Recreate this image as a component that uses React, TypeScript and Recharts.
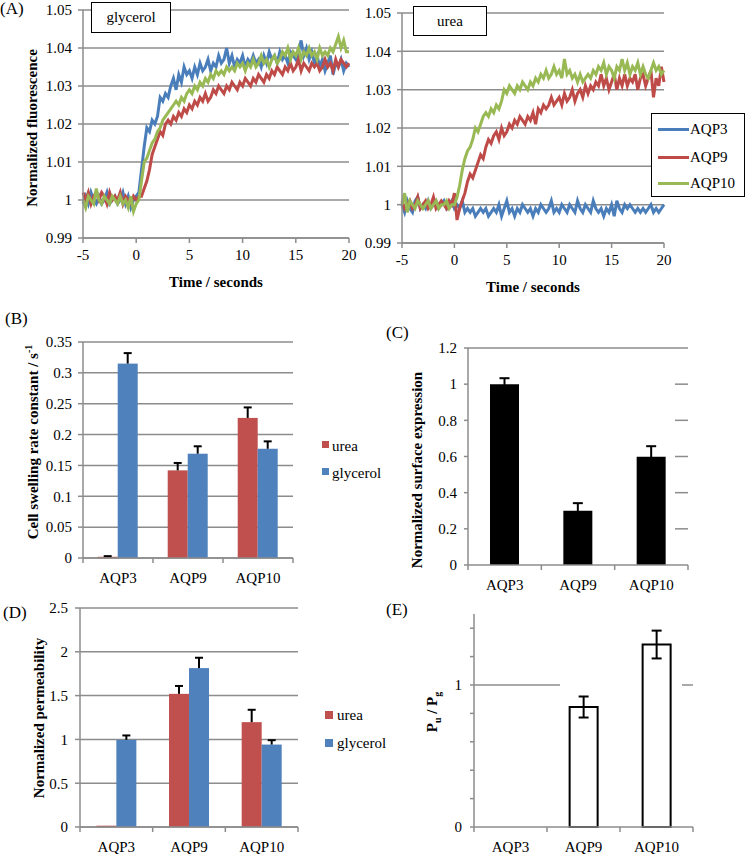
import React from 'react';
import { LineChart, Line, BarChart, Bar, XAxis, YAxis, CartesianGrid, ErrorBar } from 'recharts';

const FONT = 'Liberation Serif, Times New Roman, serif';
const GRID = '#8c8c8c';
const LINE_BLUE = '#4a7ebb';
const LINE_RED = '#be4b48';
const LINE_GREEN = '#98b954';
const BAR_RED = '#c0504d';
const BAR_BLUE = '#4f81bd';

// ---------- Panel A: time courses (t = -5 .. 20 s, every 0.25 s) ----------
const TIME_START = -5;
const TIME_STEP = 0.25;
const TIME_TICKS = [-5, 0, 5, 10, 15, 20];
const FLUO_TICKS = [0.99, 1, 1.01, 1.02, 1.03, 1.04, 1.05];

const glyAQP3 = [
  0.999, 1.001, 0.999, 1.002, 1.000, 0.999, 1.001, 0.999, 1.000, 1.002, 0.999, 1.000,
  1.001, 0.999, 1.000, 1.002, 0.999, 1.001, 0.998, 1.000,
  1.001, 1.002, 1.008, 1.014, 1.019, 1.018, 1.021, 1.020, 1.022, 1.027, 1.026, 1.028,
  1.027, 1.030, 1.032, 1.029, 1.033, 1.031, 1.035, 1.033, 1.034, 1.032, 1.035, 1.033,
  1.036, 1.034, 1.035, 1.037, 1.034, 1.036, 1.035, 1.038, 1.036, 1.037, 1.040, 1.036,
  1.038, 1.035, 1.037, 1.036, 1.038, 1.035, 1.037, 1.036, 1.038, 1.036, 1.037, 1.035,
  1.038, 1.036, 1.039, 1.037, 1.038, 1.036, 1.039, 1.037, 1.038, 1.036, 1.039, 1.038,
  1.037, 1.039, 1.042, 1.038, 1.040, 1.037, 1.039, 1.036, 1.038, 1.035, 1.037, 1.034,
  1.036, 1.038, 1.033, 1.036, 1.035, 1.037, 1.034, 1.036, 1.035,
];
const glyAQP9 = [
  1.002, 1.000, 1.002, 0.999, 1.001, 1.002, 1.000, 1.002, 1.001, 0.999, 1.002, 1.000,
  1.001, 1.000, 1.002, 0.999, 1.001, 1.000, 0.999, 1.001,
  1.000, 1.001, 1.001, 1.003, 1.005, 1.008, 1.012, 1.014, 1.016, 1.018, 1.017, 1.020,
  1.021, 1.020, 1.022, 1.021, 1.023, 1.022, 1.024, 1.023, 1.025, 1.024, 1.026, 1.025,
  1.027, 1.026, 1.028, 1.026, 1.027, 1.029, 1.028, 1.030, 1.029, 1.028, 1.030, 1.029,
  1.031, 1.030, 1.029, 1.031, 1.030, 1.032, 1.031, 1.030, 1.032, 1.031, 1.033, 1.032,
  1.031, 1.033, 1.032, 1.034, 1.033, 1.035, 1.034, 1.033, 1.035, 1.034, 1.036, 1.034,
  1.035, 1.037, 1.034, 1.036, 1.035, 1.034, 1.036, 1.035, 1.036, 1.034, 1.035, 1.037,
  1.035, 1.036, 1.034, 1.037, 1.035, 1.037, 1.036, 1.035, 1.036,
];
const glyAQP10 = [
  1.000, 0.998, 1.001, 1.000, 0.999, 1.003, 1.000, 0.999, 1.001, 1.000, 0.999, 1.001,
  1.000, 0.999, 1.001, 0.999, 1.000, 0.998, 1.001, 0.997,
  0.999, 1.000, 1.005, 1.010, 1.011, 1.013, 1.015, 1.016, 1.018, 1.019, 1.021, 1.022,
  1.023, 1.024, 1.025, 1.026, 1.025, 1.027, 1.026, 1.028, 1.029, 1.028, 1.030, 1.029,
  1.031, 1.030, 1.032, 1.031, 1.033, 1.032, 1.034, 1.033, 1.034, 1.033, 1.035, 1.034,
  1.035, 1.034, 1.036, 1.035, 1.036, 1.034, 1.036, 1.035, 1.037, 1.035, 1.036, 1.038,
  1.036, 1.037, 1.035, 1.037, 1.038, 1.036, 1.037, 1.039, 1.038, 1.040, 1.037, 1.039,
  1.038, 1.040, 1.037, 1.039, 1.038, 1.040, 1.038, 1.039, 1.037, 1.040, 1.038, 1.039,
  1.038, 1.040, 1.039, 1.041, 1.043, 1.040, 1.042, 1.039, 1.039,
];
const ureaAQP3 = [
  1.000, 0.998, 1.001, 0.999, 0.998, 1.001, 1.002, 0.999, 1.000, 0.999, 1.001, 0.999,
  1.000, 1.001, 0.999, 1.000, 1.001, 0.999, 1.000, 1.001,
  0.999, 1.000, 0.999, 1.001, 0.998, 0.999, 0.998, 0.999, 0.997, 0.998, 0.999, 0.998,
  0.999, 0.997, 0.998, 0.999, 0.998, 1.000, 0.997, 0.999, 1.001, 0.998, 0.999, 0.997,
  0.999, 0.998, 1.000, 0.999, 0.998, 0.999, 0.997, 0.999, 0.998, 1.000, 0.999, 0.998,
  0.999, 1.001, 0.998, 0.999, 0.998, 1.000, 0.999, 0.998, 1.000, 0.999, 0.998, 1.001,
  0.999, 0.998, 1.000, 0.999, 0.998, 1.001, 0.999, 0.998, 0.999, 0.997, 0.999, 0.998,
  1.000, 0.997, 1.001, 0.999, 0.998, 1.000, 0.999, 1.000, 0.999, 0.998, 0.999, 0.998,
  0.999, 0.998, 0.999, 1.000, 0.998, 0.999, 0.998, 0.999, 1.000,
];
const ureaAQP9 = [
  1.001, 0.999, 1.000, 1.001, 0.999, 1.000, 1.002, 0.999, 1.000, 1.001, 0.999, 1.000,
  1.002, 0.999, 1.000, 1.001, 1.000, 0.999, 1.001, 1.000,
  1.003, 0.996, 0.999, 1.001, 1.003, 1.006, 1.008, 1.007, 1.009, 1.011, 1.013, 1.012,
  1.015, 1.017, 1.016, 1.018, 1.019, 1.017, 1.020, 1.018, 1.019, 1.021, 1.020, 1.022,
  1.021, 1.023, 1.022, 1.021, 1.023, 1.022, 1.024, 1.021, 1.025, 1.024, 1.026, 1.025,
  1.026, 1.028, 1.026, 1.027, 1.028, 1.026, 1.029, 1.027, 1.028, 1.030, 1.027, 1.029,
  1.030, 1.028, 1.031, 1.029, 1.031, 1.030, 1.032, 1.031, 1.034, 1.031, 1.033, 1.030,
  1.032, 1.034, 1.030, 1.033, 1.031, 1.034, 1.031, 1.033, 1.032, 1.034, 1.030, 1.033,
  1.034, 1.031, 1.033, 1.035, 1.028, 1.033, 1.031, 1.036, 1.032,
];
const ureaAQP10 = [
  1.000, 1.003, 0.998, 1.001, 1.000, 0.999, 1.001, 1.000, 0.999, 1.000, 1.001, 0.999,
  1.000, 1.001, 0.999, 1.000, 1.000, 1.001, 0.999, 1.000,
  1.000, 1.002, 1.005, 1.009, 1.012, 1.014, 1.015, 1.017, 1.020, 1.019, 1.021, 1.023,
  1.024, 1.023, 1.025, 1.024, 1.026, 1.025, 1.027, 1.030, 1.029, 1.031, 1.030, 1.029,
  1.031, 1.030, 1.032, 1.031, 1.030, 1.032, 1.031, 1.033, 1.032, 1.034, 1.033, 1.035,
  1.033, 1.034, 1.036, 1.034, 1.035, 1.033, 1.038, 1.034, 1.035, 1.033, 1.034, 1.032,
  1.034, 1.032, 1.033, 1.034, 1.033, 1.035, 1.034, 1.036, 1.035, 1.037, 1.034, 1.036,
  1.035, 1.033, 1.036, 1.035, 1.038, 1.035, 1.037, 1.034, 1.036, 1.035, 1.037, 1.034,
  1.036, 1.034, 1.033, 1.035, 1.037, 1.035, 1.036, 1.034, 1.035,
];

const TIMES = glyAQP3.map((_, i) => TIME_START + i * TIME_STEP);
const glyData = TIMES.map((t, i) => ({ t, aqp3: glyAQP3[i], aqp9: glyAQP9[i], aqp10: glyAQP10[i] }));
const ureaData = TIMES.map((t, i) => ({ t, aqp3: ureaAQP3[i], aqp9: ureaAQP9[i], aqp10: ureaAQP10[i] }));

// ---------- Panels B-E ----------
const CATEGORIES = ['AQP3', 'AQP9', 'AQP10'];

// (B) swelling rate constants
const rateUrea = [0.002, 0.142, 0.227];
const rateUreaErr = [0.001, 0.012, 0.017];
const rateGly = [0.315, 0.169, 0.177];
const rateGlyErr = [0.017, 0.012, 0.012];
const RATE_TICKS = [0, 0.05, 0.1, 0.15, 0.2, 0.25, 0.3, 0.35];

// (C) surface expression
const surface = [1.0, 0.3, 0.598];
const surfaceErr = [0.033, 0.042, 0.059];
const SURFACE_TICKS = [0, 0.2, 0.4, 0.6, 0.8, 1, 1.2];

// (D) normalized permeability
const permUrea = [0.015, 1.52, 1.197];
const permUreaErr = [0, 0.09, 0.141];
const permGly = [0.995, 1.814, 0.941];
const permGlyErr = [0.05, 0.118, 0.05];
const PERM_TICKS = [0, 0.5, 1, 1.5, 2, 2.5];

// (E) Pu / Pg
const ratio = [null, 0.845, 1.285];
const ratioErr = [null, 0.074, 0.098];
const RATIO_TICKS = [0, 0.2, 0.4, 0.6, 0.8, 1, 1.2, 1.4];

const rateData = CATEGORIES.map((c, i) => ({ c, urea: rateUrea[i], ureaErr: rateUreaErr[i], gly: rateGly[i], glyErr: rateGlyErr[i] }));
const surfaceData = CATEGORIES.map((c, i) => ({ c, v: surface[i], err: surfaceErr[i] }));
const permData = CATEGORIES.map((c, i) => ({ c, urea: permUrea[i], ureaErr: permUreaErr[i], gly: permGly[i], glyErr: permGlyErr[i] }));
const ratioData = CATEGORIES.map((c, i) => ({ c, v: ratio[i], err: ratioErr[i] }));

// ---------- helpers ----------
const tickStyle = { fontSize: 15, fontFamily: FONT, fill: '#000' };
const axisStroke = { stroke: GRID, strokeWidth: 1.5 };

const makeCatTick = (half: number) => (props: any) => {
  const { x, y, payload } = props;
  const last = payload.value === CATEGORIES[CATEGORIES.length - 1];
  return (
    <g>
      <line x1={x - half} x2={x - half} y1={y} y2={y + 5} stroke={GRID} strokeWidth={1.5} />
      {last ? <line x1={x + half} x2={x + half} y1={y} y2={y + 5} stroke={GRID} strokeWidth={1.5} /> : null}
      <text x={x} y={y + 20} textAnchor="middle" dominantBaseline="central" style={{ fontFamily: FONT }} fontSize={15} fill="#000">
        {payload.value}
      </text>
    </g>
  );
};

const makeUpperErrShape = (errKey: string) => (props: any) => {
  const { x, y, width, height, fill, payload, value } = props;
  const v = Array.isArray(value) ? value[1] - value[0] : value;
  const err = payload ? payload[errKey] : 0;
  const k = v ? height / v : 0;
  const top = y - err * k;
  const cx = x + width / 2;
  return (
    <g>
      <rect x={x} y={y} width={width} height={height} fill={fill} />
      {err > 0 && k > 0 ? (
        <g>
          <line x1={cx} x2={cx} y1={y} y2={top} stroke="#000" strokeWidth={2} />
          <line x1={cx - 4} x2={cx + 4} y1={top} y2={top} stroke="#000" strokeWidth={2} />
        </g>
      ) : null}
    </g>
  );
};

const Abs = ({ left, top, children, style }: any) => (
  <div style={{ position: 'absolute', left, top, fontFamily: FONT, fontSize: 15, lineHeight: 1, color: '#000', whiteSpace: 'nowrap', ...style }}>
    {children}
  </div>
);

const Centered = ({ cx, cy, children, rotate, bold, size }: any) => (
  <div
    style={{
      position: 'absolute',
      left: cx,
      top: cy,
      transform: `translate(-50%, -50%)${rotate ? ' rotate(-90deg)' : ''}`,
      fontFamily: FONT,
      fontSize: size || 15,
      fontWeight: bold ? 'bold' : 'normal',
      lineHeight: 1,
      whiteSpace: 'nowrap',
      color: '#000',
    }}
  >
    {children}
  </div>
);

const Box = ({ left, top, width, height, children }: any) => (
  <div
    style={{
      position: 'absolute', left, top, width, height, boxSizing: 'border-box',
      border: '1.5px solid #000', background: '#fff', display: 'flex', alignItems: 'center',
      justifyContent: 'center', fontFamily: FONT, fontSize: 15, color: '#000',
    }}
  >
    {children}
  </div>
);

const Panel = ({ left, top, children }: any) => (
  <div style={{ position: 'absolute', left, top, fontFamily: FONT }}>{children}</div>
);

const TimeChart = ({ data, width, margin }: any) => (
  <LineChart width={width} height={300} data={data} margin={margin} style={{ fontFamily: FONT }}>
    <CartesianGrid vertical={false} stroke={GRID} strokeWidth={1.5} />
    <XAxis dataKey="t" type="number" domain={[-5, 20]} ticks={TIME_TICKS} height={30}
      tickSize={5} tickMargin={6} tick={tickStyle} axisLine={axisStroke} tickLine={axisStroke} />
    <YAxis type="number" domain={[0.99, 1.05]} ticks={FLUO_TICKS} width={50}
      tickSize={5} tickMargin={6} tick={tickStyle} axisLine={axisStroke} tickLine={axisStroke} />
    <Line dataKey="aqp3" name="AQP3" stroke={LINE_BLUE} strokeWidth={3} dot={false} isAnimationActive={false} />
    <Line dataKey="aqp9" name="AQP9" stroke={LINE_RED} strokeWidth={3} dot={false} isAnimationActive={false} />
    <Line dataKey="aqp10" name="AQP10" stroke={LINE_GREEN} strokeWidth={3} dot={false} isAnimationActive={false} />
  </LineChart>
);

export default function App() {
  return (
    <div style={{ position: 'absolute', left: 0, top: 0, width: 745, height: 854, background: '#fff', overflow: 'hidden', fontFamily: FONT }}>
      {/* (A) glycerol */}
      <Panel left={0} top={0}>
        <TimeChart data={glyData} width={370} margin={{ top: 10, right: 21, bottom: 32, left: 33 }} />
      </Panel>
      {/* (A) urea */}
      <Panel left={340} top={0}>
        <TimeChart data={ureaData} width={405} margin={{ top: 13, right: 81, bottom: 27, left: 12 }} />
      </Panel>

      {/* (B) */}
      <Panel left={0} top={300}>
        <BarChart width={370} height={295} data={rateData} margin={{ top: 42, right: 77, bottom: 7, left: 33 }}
          barCategoryGap="21%" barGap={0} style={{ fontFamily: FONT }}>
          <CartesianGrid vertical={false} stroke={GRID} strokeWidth={1.5} />
          <XAxis dataKey="c" height={30} tickSize={0} tickMargin={0} tickLine={false}
            axisLine={axisStroke} tick={makeCatTick(35)} interval={0} />
          <YAxis domain={[0, 0.35]} ticks={RATE_TICKS} width={50} tickSize={5} tickMargin={6}
            tick={tickStyle} axisLine={axisStroke} tickLine={axisStroke} />
          <Bar dataKey="urea" name="urea" fill={BAR_RED} isAnimationActive={false} shape={makeUpperErrShape('ureaErr')} />
          <Bar dataKey="gly" name="glycerol" fill={BAR_BLUE} isAnimationActive={false} shape={makeUpperErrShape('glyErr')} />
        </BarChart>
      </Panel>

      {/* (C) */}
      <Panel left={370} top={300}>
        <BarChart width={375} height={295} data={surfaceData} margin={{ top: 48, right: 57, bottom: 8, left: 48 }}
          barCategoryGap="30%" style={{ fontFamily: FONT }}>
          <CartesianGrid vertical={false} horizontalValues={[1.2]} stroke={GRID} strokeWidth={1.5} />
          <CartesianGrid vertical={false} horizontalValues={[0.2, 0.4, 0.6, 0.8, 1]}
            horizontal={(p: any) => (
              <line key={`c-${p.index}-${p.y1}`} x1={p.x2 - 13} x2={p.x2} y1={p.y1} y2={p.y2} stroke={GRID} strokeWidth={1.5} />
            )} />
          <XAxis dataKey="c" height={22} tickSize={0} tickMargin={0} tickLine={false}
            axisLine={axisStroke} tick={makeCatTick(36.67)} interval={0} />
          <YAxis domain={[0, 1.2]} ticks={SURFACE_TICKS} width={50} tickSize={4} tickMargin={7}
            tick={tickStyle} axisLine={axisStroke} tickLine={axisStroke} />
          <Bar dataKey="v" fill="#000" isAnimationActive={false}>
            <ErrorBar dataKey="err" width={5} stroke="#000" strokeWidth={2} direction="y" />
          </Bar>
        </BarChart>
      </Panel>

      {/* (D) */}
      <Panel left={0} top={580}>
        <BarChart width={370} height={274} data={permData} margin={{ top: 28, right: 72, bottom: 2, left: 30 }}
          barCategoryGap="22.5%" barGap={0} style={{ fontFamily: FONT }}>
          <CartesianGrid vertical={false} stroke={GRID} strokeWidth={1.5} />
          <XAxis dataKey="c" height={25} tickSize={0} tickMargin={0} tickLine={false}
            axisLine={axisStroke} tick={makeCatTick(36.33)} interval={0} />
          <YAxis domain={[0, 2.5]} ticks={PERM_TICKS} width={50} tickSize={5} tickMargin={7}
            tick={tickStyle} axisLine={axisStroke} tickLine={axisStroke} />
          <Bar dataKey="urea" name="urea" fill={BAR_RED} isAnimationActive={false} shape={makeUpperErrShape('ureaErr')} />
          <Bar dataKey="gly" name="glycerol" fill={BAR_BLUE} isAnimationActive={false} shape={makeUpperErrShape('glyErr')} />
        </BarChart>
      </Panel>

      {/* (E) */}
      <Panel left={370} top={580}>
        <BarChart width={375} height={274} data={ratioData} margin={{ top: 34, right: 52, bottom: 2, left: 54 }}
          barCategoryGap="31%" style={{ fontFamily: FONT }}>
          <CartesianGrid vertical={false} horizontalValues={[1]}
            horizontal={(p: any) => (
              <g key={`e-${p.y1}`}>
                <line x1={p.x1} x2={p.x1 + 86} y1={p.y1} y2={p.y2} stroke={GRID} strokeWidth={1.5} />
                <line x1={p.x2 - 11} x2={p.x2} y1={p.y1} y2={p.y2} stroke={GRID} strokeWidth={1.5} />
              </g>
            )} />
          <XAxis dataKey="c" height={25} tickSize={0} tickMargin={0} tickLine={false}
            axisLine={axisStroke} tick={makeCatTick(36.5)} interval={0} />
          <YAxis domain={[0, 1.5]} ticks={RATIO_TICKS} width={50} tickSize={4} tickMargin={8}
            tickFormatter={(v: number) => (v === 0 || v === 1 ? String(v) : '')}
            tick={tickStyle} axisLine={axisStroke} tickLine={axisStroke} />
          <Bar dataKey="v" fill="#fff" stroke="#000" strokeWidth={2} isAnimationActive={false}>
            <ErrorBar dataKey="err" width={5} stroke="#000" strokeWidth={2} direction="y" />
          </Bar>
        </BarChart>
      </Panel>

      {/* ---- overlays: panel letters, titles, boxes, legends ---- */}
      <Abs left={0} top={0} style={{ fontSize: 17 }}>(A)</Abs>
      <Abs left={5} top={310} style={{ fontSize: 17 }}>(B)</Abs>
      <Abs left={386} top={324} style={{ fontSize: 17 }}>(C)</Abs>
      <Abs left={3} top={604} style={{ fontSize: 17 }}>(D)</Abs>
      <Abs left={386} top={601} style={{ fontSize: 17 }}>(E)</Abs>

      <Box left={91} top={2} width={80} height={31}>glycerol</Box>
      <Box left={413} top={6} width={74} height={30}>urea</Box>

      <Centered cx={32} cy={128} rotate bold>Normalized fluorescence</Centered>
      <Centered cx={216} cy={282} bold>Time / seconds</Centered>
      <Centered cx={533} cy={287} bold>Time / seconds</Centered>

      {/* legend (A, urea) */}
      <div style={{ position: 'absolute', left: 651, top: 113, width: 94, height: 84, boxSizing: 'border-box', border: '1.5px solid #000', background: '#fff' }}>
        {[
          { name: 'AQP3', color: LINE_BLUE, y: 15 },
          { name: 'AQP9', color: LINE_RED, y: 43 },
          { name: 'AQP10', color: LINE_GREEN, y: 69 },
        ].map((it) => (
          <div key={it.name}>
            <div style={{ position: 'absolute', left: 6, top: it.y - 1.5, width: 31, height: 3, background: it.color }} />
            <div style={{ position: 'absolute', left: 38, top: it.y - 8, fontFamily: FONT, fontSize: 15, lineHeight: '16px', color: '#000' }}>{it.name}</div>
          </div>
        ))}
      </div>

      <Centered cx={33} cy={442} rotate bold>
        Cell swelling rate constant / s<sup style={{ fontSize: 10, verticalAlign: 'super', lineHeight: 0 }}>-1</sup>
      </Centered>
      <Centered cx={417} cy={470} rotate bold>Normalized surface expression</Centered>
      <Centered cx={39} cy={718} rotate bold>Normalized permeability</Centered>
      <Centered cx={432} cy={712} rotate bold>
        P<sub style={{ fontSize: 10, lineHeight: 0 }}>u</sub> / P<sub style={{ fontSize: 10, lineHeight: 0 }}>g</sub>
      </Centered>

      {/* legend (B) */}
      <div style={{ position: 'absolute', left: 322, top: 441, width: 7, height: 7, background: BAR_RED }} />
      <Abs left={332} top={439}>urea</Abs>
      <div style={{ position: 'absolute', left: 322, top: 468, width: 7, height: 7, background: BAR_BLUE }} />
      <Abs left={332} top={466}>glycerol</Abs>

      {/* legend (D) */}
      <div style={{ position: 'absolute', left: 325, top: 711, width: 8, height: 8, background: BAR_RED }} />
      <Abs left={337} top={708}>urea</Abs>
      <div style={{ position: 'absolute', left: 325, top: 739, width: 8, height: 8, background: BAR_BLUE }} />
      <Abs left={337} top={736}>glycerol</Abs>
    </div>
  );
}
